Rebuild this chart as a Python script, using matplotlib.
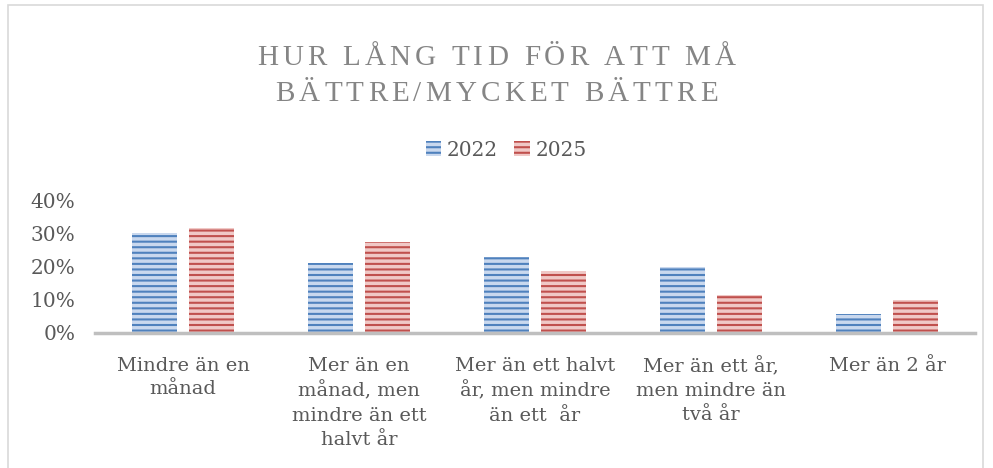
import matplotlib.pyplot as plt
import numpy as np
from matplotlib.patches import Rectangle
from matplotlib.font_manager import FontProperties

categories = ["Mindre än en\nmånad", "Mer än en\nmånad, men\nmindre än ett\nhalvt år",
              "Mer än ett halvt\når, men mindre\nän ett  år", "Mer än ett år,\nmen mindre än\ntvå år",
              "Mer än 2 år"]
v2022 = [0.30, 0.21, 0.23, 0.20, 0.057]
v2025 = [0.316, 0.274, 0.186, 0.115, 0.10]
yticks = [0, 0.1, 0.2, 0.3, 0.4]
ytick_labels = ["0%", "10%", "20%", "30%", "40%"]
title_lines = ["HUR LÅNG TID FÖR ATT MÅ", "BÄTTRE/MYCKET BÄTTRE"]

plt.rcParams['font.family'] = ['DejaVu Serif']
plt.rcParams['hatch.linewidth'] = 1.5
grey = '#595959'

fig = plt.figure(figsize=(9.93, 4.68), dpi=100)
fig.patches.append(Rectangle((8 / 993, -0.05), 975 / 993, 1.04, transform=fig.transFigure,
                             fill=False, edgecolor='#d9d9d9', linewidth=1.2))

ax = fig.add_axes([95 / 993, (468 - 333) / 468, 880 / 993, 133 / 468])
x = np.arange(len(categories))
w = 0.256
off = 0.16
ax.bar(x - off, v2022, w, color='#c9d8ee', edgecolor='#4f81bd', hatch='---', linewidth=0, label='2022')
ax.bar(x + off, v2025, w, color='#f0c8c6', edgecolor='#c0504d', hatch='---', linewidth=0, label='2025')

ax.set_xlim(-0.5, len(categories) - 0.5)
ax.set_ylim(0, 0.4)
ax.set_yticks(yticks)
ax.set_yticklabels(ytick_labels, fontsize=14.5, color=grey)
ax.set_xticks(x)
ax.set_xticklabels(categories, fontsize=14, color=grey, linespacing=1.42, va='top')
ax.tick_params(axis='x', length=0, pad=17)
ax.tick_params(axis='y', length=0, pad=14)
for s in ['top', 'right', 'left']:
    ax.spines[s].set_visible(False)
ax.spines['bottom'].set_color('#bfbfbf')
ax.spines['bottom'].set_linewidth(2.5)

# title with letter spacing, drawn char by char
renderer = fig.canvas.get_renderer()
tprop = FontProperties(family='Liberation Serif', size=21)
for line, yb, target in zip(title_lines, [65, 101], [478, 442]):
    widths = [renderer.get_text_width_height_descent(ch, tprop, ismath=False)[0] for ch in line]
    track = (target - sum(widths)) / (len(line) - 1)
    xpos = 993 / 2 - target / 2
    for ch, cw in zip(line, widths):
        fig.text(xpos / 993, 1 - yb / 468, ch, ha='left', va='baseline',
                 fontproperties=tprop, color='#858585')
        xpos += cw + track

fig.legend(loc='center', bbox_to_anchor=(0.51, 1 - 150 / 468), ncol=2, frameon=False,
           fontsize=14.5, handlelength=0.75, handleheight=0.75, handletextpad=0.3,
           columnspacing=0.8, labelcolor=grey)

fig.savefig('out.png', dpi=100)
